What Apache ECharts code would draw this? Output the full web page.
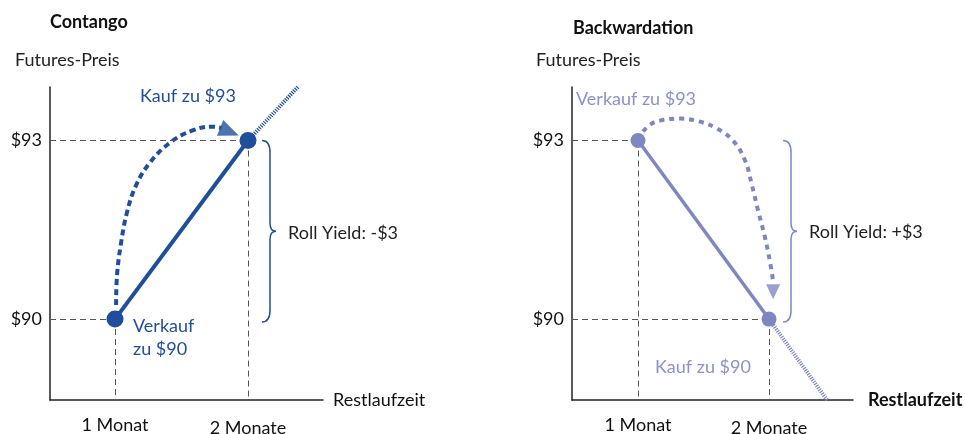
<!DOCTYPE html>
<html>
<head>
<meta charset="utf-8">
<script src="https://cdn.jsdelivr.net/npm/echarts@6/dist/echarts.min.js"></script>
<style>
  html, body { margin: 0; padding: 0; background: #fff; }
  #root { width: 965px; height: 434px; }
</style>
</head>
<body>
<div id="root"></div>
<script>
  // values
  const months = [1, 2];
  const monthLabels = ['1 Monat', '2 Monate'];
  const priceTicks = [90, 93];
  const contangoPrices = [90, 93];
  const backwardationPrices = [93, 90];

  const contangoExtension = [[2, 93], [2.374, 93.9]];
  const backwardationExtension = [[2, 90], [2.443, 88.64]];

  const contangoRoll = [
    [1.008, 90.235], [1.015, 90.737], [1.045, 91.274], [1.09, 91.793],
    [1.158, 92.246], [1.263, 92.631], [1.414, 92.966], [1.579, 93.167],
    [1.729, 93.234], [1.8, 93.21]
  ];
  const contangoArrow = [[1.86, 93.15]];

  const backwardationRoll = [
    [1.038, 93.151], [1.092, 93.268], [1.168, 93.335], [1.321, 93.369],
    [1.473, 93.318], [1.603, 93.201], [1.725, 93.0], [1.817, 92.665],
    [1.87, 92.246], [1.916, 91.827], [1.969, 91.374], [2.008, 90.955],
    [2.031, 90.637]
  ];
  const backwardationArrow = [[2.031, 90.46]];

  const DARK = '#1f4f9c';
  const LIGHT = '#7d88c3';
  const FONT = 'Lato';
  const FS = 18;
  const Y_MIN = 88.64, Y_MAX = 93.9;

  const pairs = (xs, ys) => xs.map((x, i) => [x, ys[i]]);

  function axisPair(idx, xMin, xMax, nameStyle) {
    const x = {
      type: 'value', gridIndex: idx, min: xMin, max: xMax,
      name: 'Restlaufzeit', nameLocation: 'end', nameGap: idx === 0 ? 10 : 15,
      nameTextStyle: Object.assign({ fontFamily: FONT, fontSize: FS, color: '#111', verticalAlign: 'middle', padding: [6, 0, 0, 0] }, nameStyle),
      axisLine: { show: true, onZero: false, lineStyle: { color: '#222', width: 1.5 } },
      axisTick: { show: false },
      splitLine: { show: false },
      axisLabel: {
        customValues: months, margin: 16, fontFamily: FONT, fontSize: FS, color: '#111',
        formatter: (v) => v === 2 ? '{b|' + monthLabels[1] + '}' : '{a|' + monthLabels[0] + '}',
        rich: { a: { fontFamily: FONT, fontSize: FS, color: '#111' }, b: { fontFamily: FONT, fontSize: FS, color: '#111', padding: [3, 0, 0, 0] } }
      }
    };
    const y = {
      type: 'value', gridIndex: idx, min: Y_MIN, max: Y_MAX,
      axisLine: { show: true, onZero: false, lineStyle: { color: '#222', width: 1.5 } },
      axisTick: { show: false },
      splitLine: { show: false },
      axisLabel: {
        customValues: priceTicks, margin: 8, fontFamily: FONT, fontSize: FS, color: '#111',
        formatter: (v) => '$' + v
      }
    };
    return [x, y];
  }

  function guides(points, xMin) {
    const out = [];
    points.forEach(([x, y]) => {
      out.push([{ coord: [xMin, y] }, { coord: [x, y] }]);
      out.push([{ coord: [x, y] }, { coord: [x, Y_MIN] }]);
    });
    return out;
  }

  function braceSeries(idx, color, xVal, top, bottom) {
    return {
      type: 'custom', xAxisIndex: idx, yAxisIndex: idx, silent: true,
      data: [[xVal, top, bottom]],
      renderItem: (params, api) => {
        const t = api.coord([api.value(0), api.value(1)]);
        const b = api.coord([api.value(0), api.value(2)]);
        const x0 = t[0] + 14, x1 = t[0] + 22, x2 = t[0] + 28;
        const y0 = t[1], y1 = b[1] + 3, ym = (y0 + y1) / 2;
        const d = 'M' + x0 + ' ' + y0 +
          ' Q' + x1 + ' ' + y0 + ' ' + x1 + ' ' + (y0 + 12) +
          ' L' + x1 + ' ' + (ym - 8) +
          ' Q' + x1 + ' ' + ym + ' ' + x2 + ' ' + ym +
          ' Q' + x1 + ' ' + ym + ' ' + x1 + ' ' + (ym + 8) +
          ' L' + x1 + ' ' + (y1 - 12) +
          ' Q' + x1 + ' ' + y1 + ' ' + x0 + ' ' + y1;
        return { type: 'path', shape: { pathData: d }, style: { fill: 'none', stroke: color, lineWidth: 1.5 } };
      }
    };
  }

  function panelSeries(idx, color, prices, extension, roll, arrow, arrowRot, arrowSize, dash, xMin, braceX, lineW, dotSize) {
    return [
      {
        type: 'line', xAxisIndex: idx, yAxisIndex: idx, z: 5,
        data: pairs(months, prices),
        symbol: 'circle', symbolSize: dotSize,
        itemStyle: { color: color },
        lineStyle: { color: color, width: lineW },
        markLine: {
          silent: true, symbol: ['none', 'none'], animation: false,
          label: { show: false },
          lineStyle: { color: '#555', type: [6, 4], width: 1 },
          data: guides(pairs(months, prices), xMin)
        }
      },
      {
        type: 'line', xAxisIndex: idx, yAxisIndex: idx, z: 4,
        data: extension, symbol: 'none',
        lineStyle: { color: color, width: 4, type: [1.2, 1.2] }
      },
      {
        type: 'line', xAxisIndex: idx, yAxisIndex: idx, z: 3,
        data: roll, symbol: 'none', smooth: 0.4,
        lineStyle: { color: color, width: 4, type: dash }
      },
      {
        type: 'scatter', xAxisIndex: idx, yAxisIndex: idx, z: 3,
        data: arrow, symbol: 'triangle', symbolSize: arrowSize, symbolRotate: arrowRot,
        itemStyle: { color: color }
      },
      braceSeries(idx, color, braceX, 93, 90)
    ];
  }

  const leftAxes = axisPair(0, 0.511, 2.564, { fontWeight: 'normal' });
  const rightAxes = axisPair(1, 0.496, 2.641, { fontWeight: 'bold' });

  const text = (t, x, y, color, weight) => ({
    type: 'text', x: x, y: y,
    style: { text: t, fill: color, font: (weight || 'normal') + ' ' + FS + 'px ' + FONT, align: 'left', verticalAlign: 'middle' }
  });

  const chart = echarts.init(document.getElementById('root'));
  chart.setOption({
    animation: false,
    grid: [
      { left: 50, top: 87, width: 273, height: 313, outerBoundsMode: 'none' },
      { left: 572, top: 87, width: 281, height: 313, outerBoundsMode: 'none' }
    ],
    xAxis: [leftAxes[0], rightAxes[0]],
    yAxis: [leftAxes[1], rightAxes[1]],
    graphic: [
      text('Contango', 50, 22, '#111', 'bold'),
      text('Futures-Preis', 15, 60, '#222'),
      text('Kauf zu $93', 140, 96, DARK),
      text('Verkauf', 133, 326, DARK),
      text('zu $90', 133, 349, DARK),
      text('Roll Yield: -$3', 288, 233, '#222'),
      text('Backwardation', 573, 28, '#111', 'bold'),
      text('Futures-Preis', 536, 60, '#222'),
      text('Verkauf zu $93', 576, 99, '#8a93cc'),
      text('Kauf zu $90', 655, 367, '#8a93cc'),
      text('Roll Yield: +$3', 809, 232, '#222')
    ],
    series: [].concat(
      panelSeries(0, DARK, contangoPrices, contangoExtension, contangoRoll, contangoArrow, -112, [17, 20], [6, 4], 0.511, 2, 4, 17),
      panelSeries(1, LIGHT, backwardationPrices, backwardationExtension, backwardationRoll, backwardationArrow, 180, [14, 15], [5, 5], 0.496, 2, 3.5, 15)
    )
  });
</script>
</body>
</html>
